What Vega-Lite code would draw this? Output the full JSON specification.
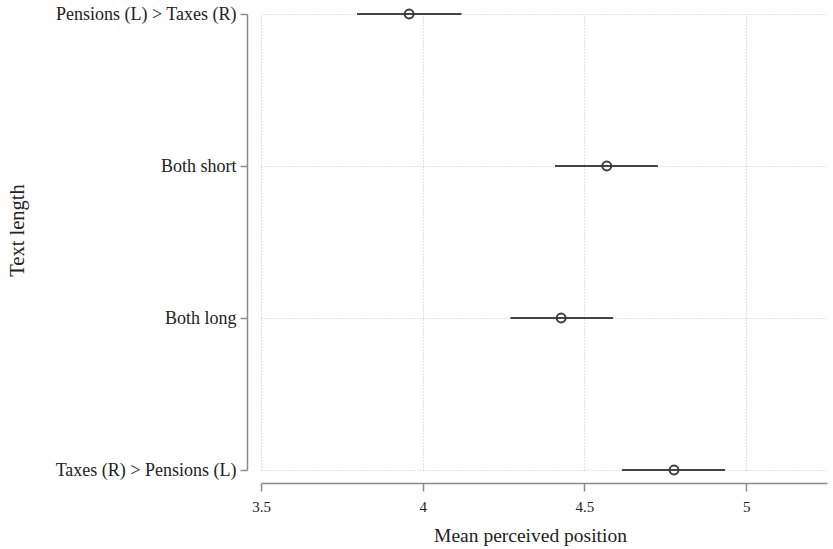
{
  "$schema": "https://vega.github.io/schema/vega-lite/v6.json",
  "width": 566,
  "height": 456,
  "autosize": "none",
  "padding": {"left": 261, "top": 14, "right": 6, "bottom": 79},
  "background": "white",
  "config": {
    "view": {"stroke": null},
    "font": "Liberation Serif",
    "axis": {
      "labelFont": "Liberation Serif",
      "titleFont": "Liberation Serif",
      "labelColor": "#222",
      "titleColor": "#222",
      "titleFontWeight": "normal",
      "domainColor": "#8a8a8a",
      "domainWidth": 1.5,
      "tickColor": "#8a8a8a",
      "tickWidth": 1.5,
      "tickSize": 8,
      "gridColor": "#c4c4c4",
      "gridDash": [1, 2],
      "gridWidth": 1
    }
  },
  "data": {
    "values": [
      {"group": "Pensions (L) > Taxes (R)", "mean": 3.958, "lo": 3.797, "hi": 4.12},
      {"group": "Both short", "mean": 4.569, "lo": 4.409, "hi": 4.727},
      {"group": "Both long", "mean": 4.428, "lo": 4.271, "hi": 4.589},
      {"group": "Taxes (R) > Pensions (L)", "mean": 4.777, "lo": 4.616, "hi": 4.935}
    ]
  },
  "encoding": {
    "y": {
      "field": "group",
      "type": "nominal",
      "sort": ["Pensions (L) > Taxes (R)", "Both short", "Both long", "Taxes (R) > Pensions (L)"],
      "scale": {"type": "point", "padding": 0},
      "axis": {
        "title": "Text length",
        "offset": 14,
        "labelFontSize": 18,
        "labelLimit": 400,
        "titleFontSize": 20.5,
        "labelPadding": 4,
        "tickSize": 7,
        "titleX": -220,
        "titleY": 216,
        "grid": true
      }
    }
  },
  "layer": [
    {
      "mark": {"type": "rule", "color": "#444444", "strokeWidth": 2},
      "encoding": {
        "x": {
          "field": "lo",
          "type": "quantitative",
          "scale": {"domain": [3.5, 5.25], "nice": false, "zero": false},
          "axis": {
            "title": "Mean perceived position",
            "values": [3.5, 4, 4.5, 5],
            "format": "~g",
            "labelFlush": false,
            "offset": 13,
            "labelFontSize": 15,
            "titleFontSize": 19.5,
            "labelPadding": 8,
            "titlePadding": 12,
            "titleX": 269,
            "grid": true
          }
        },
        "x2": {"field": "hi"}
      }
    },
    {
      "mark": {"type": "point", "shape": "circle", "filled": false, "color": "#3a3a3a", "strokeWidth": 2, "size": 80, "opacity": 1},
      "encoding": {
        "x": {"field": "mean", "type": "quantitative"}
      }
    }
  ]
}
